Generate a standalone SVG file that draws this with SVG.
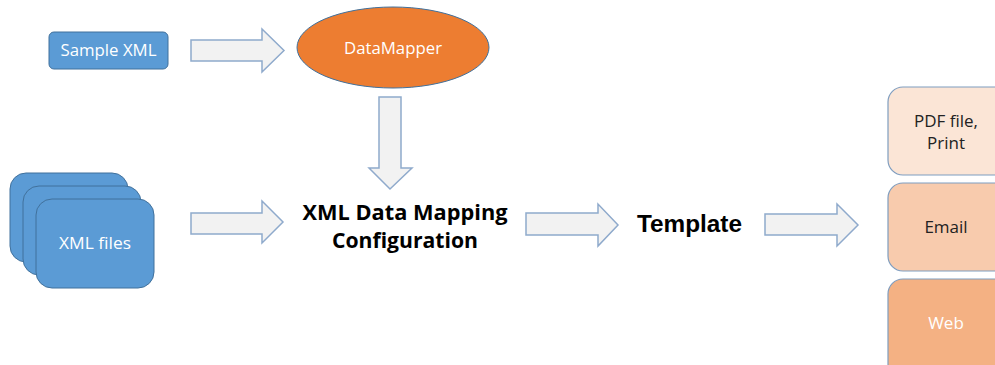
<svg xmlns="http://www.w3.org/2000/svg" width="995" height="365" viewBox="0 0 995 365">
<style>
.blue{fill:#5B9BD5;stroke:#41719C;stroke-width:1}
.arr{fill:#F2F2F2;stroke:#8FAACC;stroke-width:1.5;stroke-linejoin:miter}
.lbl{font-family:"Open Sans","Noto Sans",sans-serif;font-size:16px;text-anchor:middle}
.side{font-family:"Open Sans","Noto Sans",sans-serif;font-size:17px;text-anchor:middle}
.big{font-family:"Open Sans","Noto Sans",sans-serif;font-weight:bold;font-size:22px;text-anchor:middle;fill:#000}
.out{stroke:#7F9DBF;stroke-width:1.2}
</style>
<rect width="995" height="365" fill="#fff"/>
<g id="connectors">
<polygon class="arr" points="191,40 262,40 262,29 284,50.5 262,72 262,61 191,61"/>
<polygon class="arr" points="379,97 401,97 401,168 412,168 390,189 369,168 379,168"/>
<polygon class="arr" points="191,213 262,213 262,201 283,222 262,243 262,234 191,234"/>
<polygon class="arr" points="526,213 598,213 598,204 618,225 598,246 598,235 526,235"/>
<polygon class="arr" points="765,214 837,214 837,204 858,225 837,246 837,235 765,235"/>
</g>
<g id="sample-xml">
<rect class="blue" x="49" y="32" width="119" height="37" rx="5"/>
<text class="lbl" x="108.5" y="56" fill="#fff" textLength="96" lengthAdjust="spacingAndGlyphs">Sample XML</text>
</g>
<g id="datamapper">
<ellipse cx="393" cy="47.5" rx="96" ry="40.5" fill="#ED7D31" stroke="#41719C" stroke-width="1"/>
<text class="lbl" x="393" y="54" fill="#fff" textLength="98" lengthAdjust="spacingAndGlyphs">DataMapper</text>
</g>
<g id="xml-files">
<rect class="blue" x="10" y="173" width="118" height="89" rx="16"/>
<rect class="blue" x="23" y="186" width="118" height="89" rx="16"/>
<rect class="blue" x="36" y="199" width="118" height="89" rx="16"/>
<text class="lbl" x="95" y="249" fill="#fff" textLength="72" lengthAdjust="spacingAndGlyphs">XML files</text>
</g>
<g id="config">
<text class="big" x="405" y="220" textLength="205" lengthAdjust="spacingAndGlyphs">XML Data Mapping</text>
<text class="big" x="405" y="248" textLength="146" lengthAdjust="spacingAndGlyphs">Configuration</text>
</g>
<g id="template">
<text x="637" y="232" font-family="Liberation Sans,Arial,sans-serif" font-weight="bold" font-size="24" fill="#000" textLength="105" lengthAdjust="spacingAndGlyphs">Template</text>
</g>
<g id="pdf">
<rect class="out" x="888" y="87" width="130" height="88" rx="15" fill="#FBE5D6"/>
<text class="side" x="946" y="127" fill="#222">PDF file,</text>
<text class="side" x="946" y="149" fill="#222">Print</text>
</g>
<g id="email">
<rect class="out" x="888" y="183" width="130" height="88" rx="15" fill="#F8CBAD"/>
<text class="side" x="946" y="233" fill="#222">Email</text>
</g>
<g id="web">
<rect class="out" x="888" y="279" width="130" height="100" rx="15" fill="#F4B183"/>
<text class="side" x="946" y="329" fill="#fff">Web</text>
</g>
</svg>
